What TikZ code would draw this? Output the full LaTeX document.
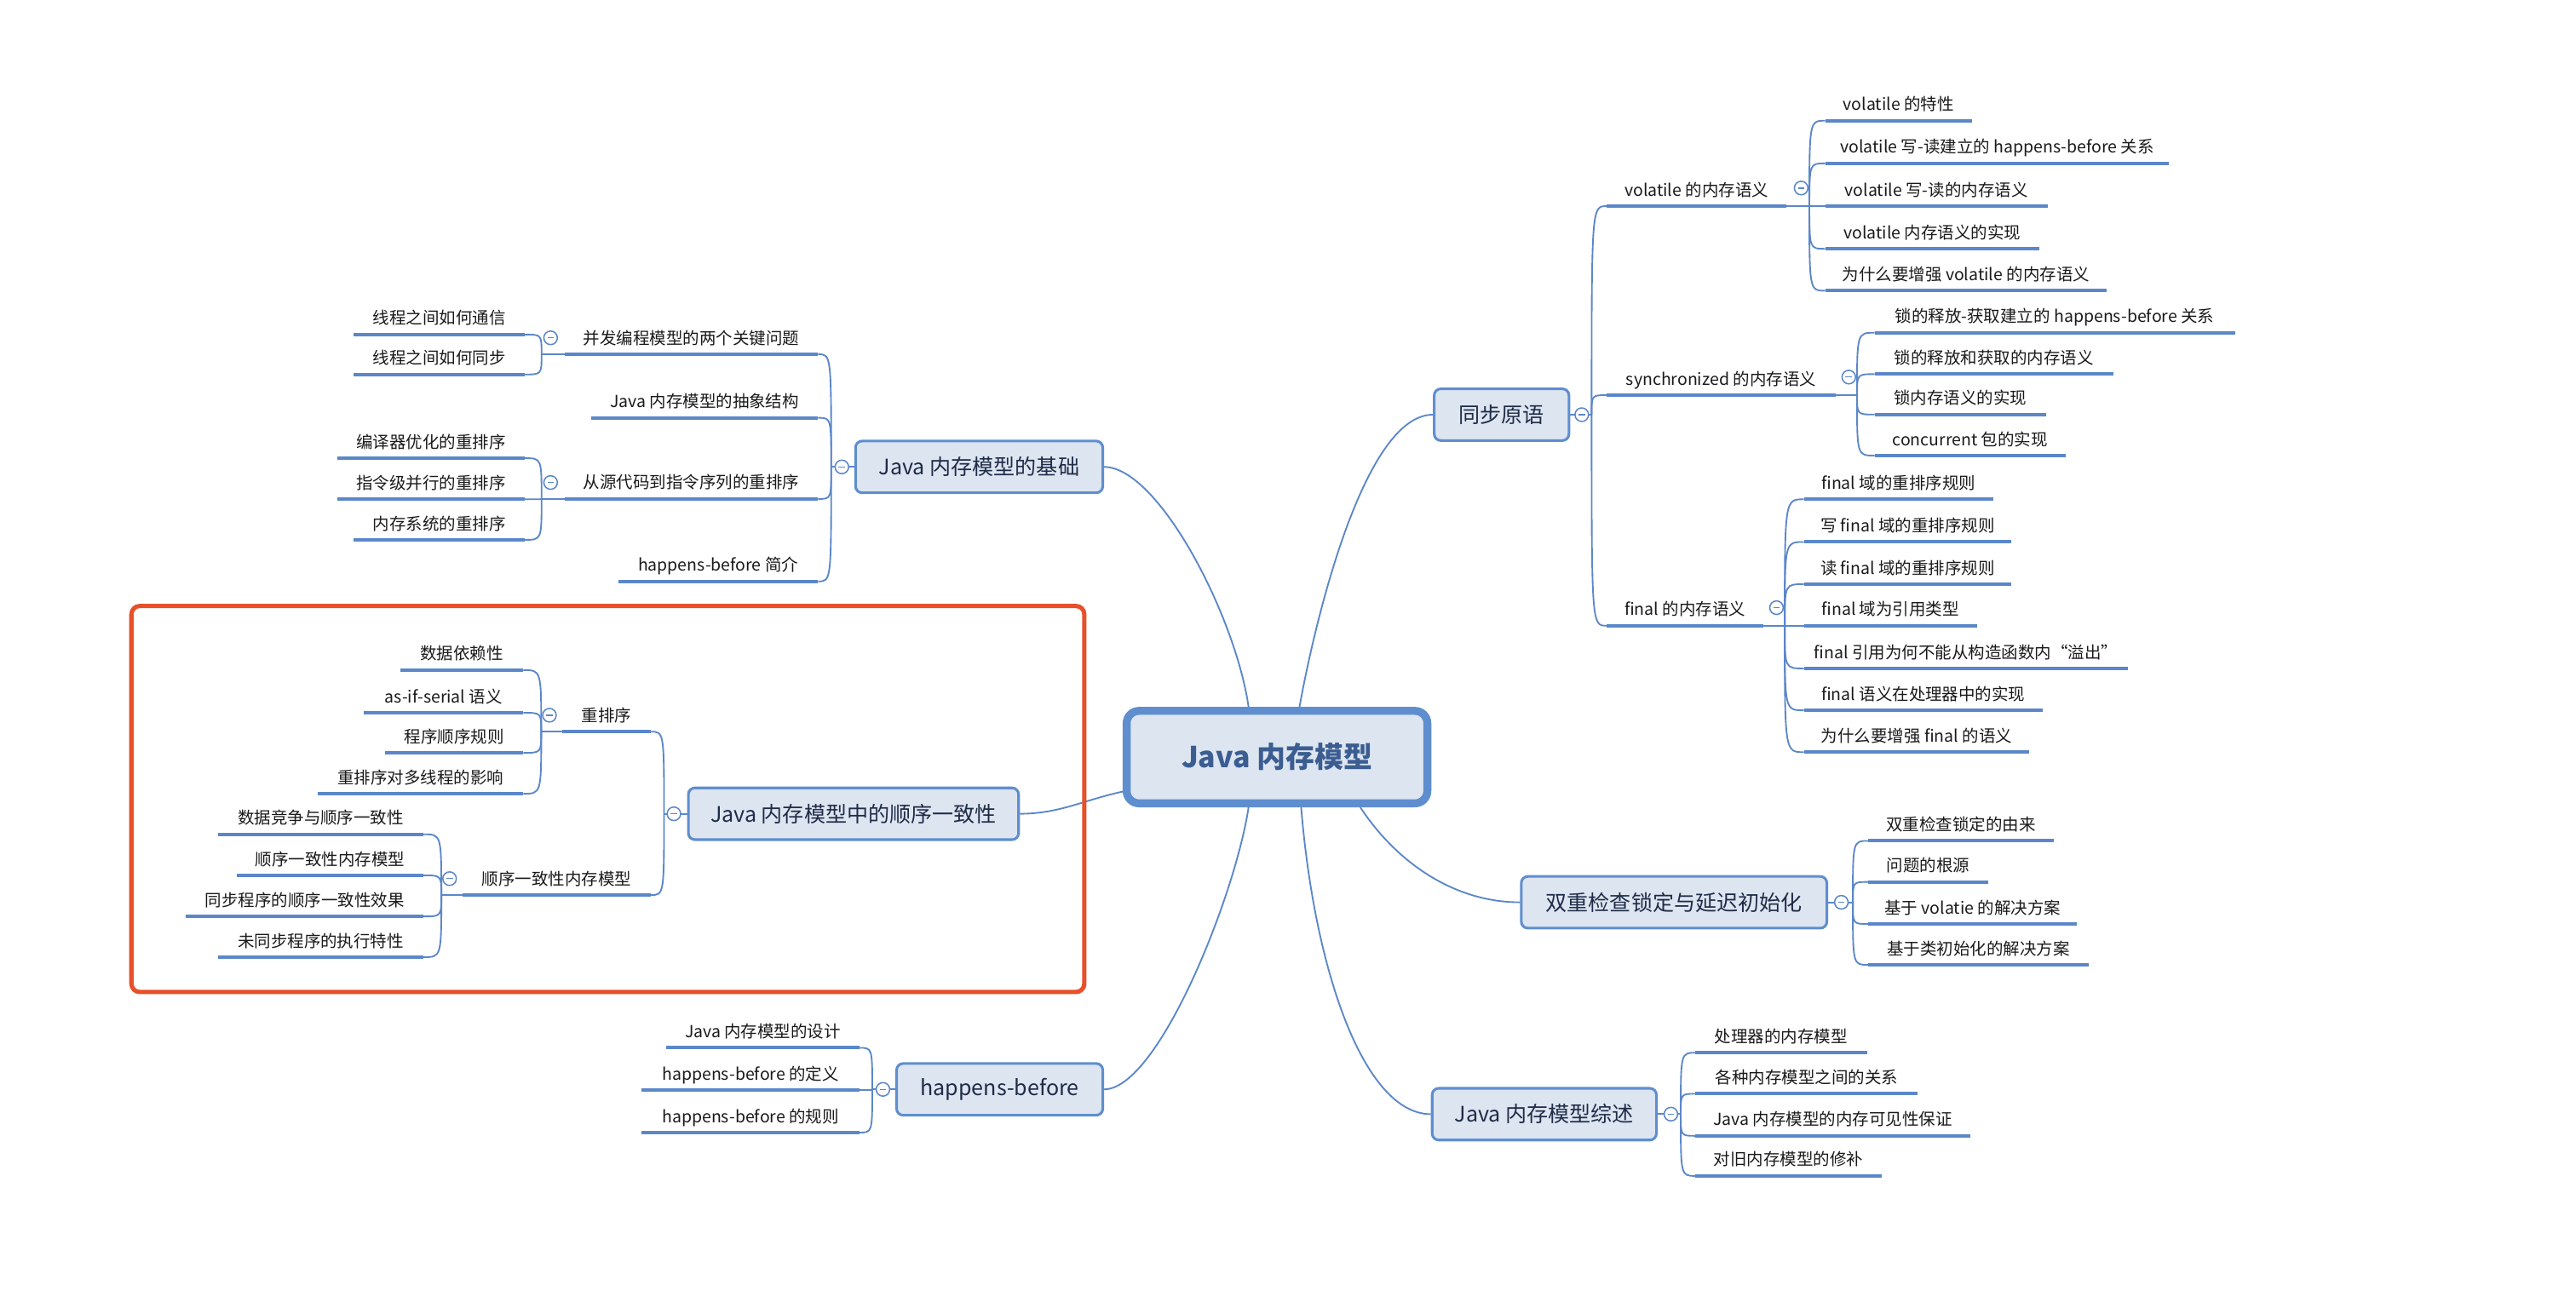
\documentclass[tikz,border=0pt]{standalone}
\usepackage{fontspec}
\setmainfont{Noto Sans CJK SC}
\usetikzlibrary{calc}
\definecolor{lnblue}{HTML}{5B87C9}
\definecolor{boxfill}{HTML}{DDE5F1}
\definecolor{boxline}{HTML}{5F8ECF}
\definecolor{navy}{HTML}{1F2C47}
\definecolor{maintxt}{HTML}{3B5D91}
\definecolor{redbox}{HTML}{E8502A}
\definecolor{leaftxt}{HTML}{1A1A1A}
\pgfdeclarelayer{background}
\pgfsetlayers{background,main}
\newcommand\leaffont{\fontsize{11.5pt}{13pt}\selectfont}
\newcommand\ltwofont{\fontsize{14.8pt}{17pt}\selectfont}
\newcommand\topfont{\fontsize{20pt}{24pt}\selectfont\bfseries}
\newcommand\rleaf[5]{\node[leaf, anchor=south west, minimum width={(#3-#2)*0.04cm}] (#1) at (#2,#4) {#5};}
\newcommand\lleaf[5]{\node[leaf, anchor=south east, minimum width={(#3-#2)*0.04cm}] (#1) at (#3,#4) {#5};}
\newcommand\rconn[2]{\draw[conn] (#1) .. controls (#1 |- #2.south west) .. (#2.south west);}
\newcommand\lconn[2]{\draw[conn] (#1) .. controls (#1 |- #2.south east) .. (#2.south east);}
\tikzset{
  bar/.style={draw=lnblue, line width=2.4pt},
  conn/.style={draw=lnblue, line width=1.1pt},
  leaf/.style={font=\leaffont, text=leaftxt, inner xsep=0pt, inner ysep=0.17cm,
    text height=0.8em, text depth=0.2em,
    append after command={(\tikzlastnode.south west) edge[bar] (\tikzlastnode.south east)}},
  ltwo/.style={draw=boxline, fill=boxfill, line width=1.8pt, rounded corners=0.16cm,
    minimum height=1.26cm, font=\ltwofont, text=navy, inner sep=0pt},
  mainbox/.style={draw=boxline, fill=boxfill, line width=5.5pt, rounded corners=0.3cm,
    minimum width=7.32cm, minimum height=2.25cm, font=\topfont, text=maintxt, inner sep=0pt},
  circ/.style={circle, draw=lnblue, fill=white, line width=0.9pt, minimum size=0.33cm, inner sep=0pt,
    path picture={\draw[lnblue, line width=0.8pt] ([xshift=-0.08cm]path picture bounding box.center) -- ([xshift=0.08cm]path picture bounding box.center);}}
}
\begin{document}
\begin{tikzpicture}[x=0.04cm, y=-0.04cm]
\begin{pgfonlayer}{background}
\fill[white] (0,0) rectangle (1568,796.4);
\end{pgfonlayer}
\useasboundingbox (0,0) rectangle (1568,796.4);

% ---- central and level-2 nodes ----
\node[mainbox] (main) at (777.3,461) {Java 内存模型};
\node[ltwo, minimum width=3.28cm] (tb) at (914,252.5) {同步原语};
\node[ltwo, minimum width=7.44cm] (sc) at (1019,549.4) {双重检查锁定与延迟初始化};
\node[ltwo, minimum width=5.46cm] (zs) at (940,678.4) {Java 内存模型综述};
\node[ltwo, minimum width=6.02cm] (jb) at (596,284.3) {Java 内存模型的基础};
\node[ltwo, minimum width=8.04cm] (sx) at (519.5,495.5) {Java 内存模型中的顺序一致性};
\node[ltwo, minimum width=5.02cm] (hb) at (608.5,663.3) {happens-before};

% ---- right: 同步原语 ----
\rleaf{v}{978}{1087}{125.5}{volatile 的内存语义}
\rleaf{s}{978}{1117}{240.6}{synchronized 的内存语义}
\rleaf{f}{978}{1073}{381}{final 的内存语义}
\rleaf{v1}{1111}{1200}{73.5}{volatile 的特性}
\rleaf{v2}{1111}{1320}{99.5}{volatile 写-读建立的 happens-before 关系}
\rleaf{v3}{1111}{1246}{125.5}{volatile 写-读的内存语义}
\rleaf{v4}{1111}{1241}{151.5}{volatile 内存语义的实现}
\rleaf{v5}{1111}{1282}{177}{为什么要增强 volatile 的内存语义}
\rleaf{s1}{1141}{1360}{202.6}{锁的释放-获取建立的 happens-before 关系}
\rleaf{s2}{1141}{1286}{227.8}{锁的释放和获取的内存语义}
\rleaf{s3}{1141}{1245}{252.4}{锁内存语义的实现}
\rleaf{s4}{1141}{1257}{277.4}{concurrent 包的实现}
\rleaf{f1}{1098}{1213}{304}{final 域的重排序规则}
\rleaf{f2}{1098}{1224}{330}{写 final 域的重排序规则}
\rleaf{f3}{1098}{1224}{355.7}{读 final 域的重排序规则}
\rleaf{f4}{1098}{1203}{381}{final 域为引用类型}
\rleaf{f5}{1098}{1295}{407}{final 引用为何不能从构造函数内“溢出”}
\rleaf{f6}{1098}{1243}{432.5}{final 语义在处理器中的实现}
\rleaf{f7}{1098}{1235}{458}{为什么要增强 final 的语义}

% ---- right: 双重检查 ----
\rleaf{d1}{1137}{1250}{512}{双重检查锁定的由来}
\rleaf{d2}{1137}{1210}{537}{问题的根源}
\rleaf{d3}{1137}{1264}{562.6}{基于 volatie 的解决方案}
\rleaf{d4}{1137}{1271}{587.5}{基于类初始化的解决方案}

% ---- right: 综述 ----
\rleaf{z1}{1032}{1136}{641}{处理器的内存模型}
\rleaf{z2}{1032}{1167}{666}{各种内存模型之间的关系}
\rleaf{z3}{1032}{1199}{691.6}{Java 内存模型的内存可见性保证}
\rleaf{z4}{1032}{1145}{716}{对旧内存模型的修补}

% ---- left: 基础 ----
\lleaf{b1}{344}{498}{215.7}{并发编程模型的两个关键问题}
\lleaf{b2}{360}{498}{254.4}{Java 内存模型的抽象结构}
\lleaf{b3}{344}{498}{303.8}{从源代码到指令序列的重排序}
\lleaf{b4}{376.6}{498}{354}{happens-before 简介}
\lleaf{b11}{215.6}{319.5}{203.7}{线程之间如何通信}
\lleaf{b12}{215.6}{319.5}{228}{线程之间如何同步}
\lleaf{b31}{205.8}{319.5}{279}{编译器优化的重排序}
\lleaf{b32}{205.8}{319.5}{304}{指令级并行的重排序}
\lleaf{b33}{215.6}{319.5}{328.7}{内存系统的重排序}

% ---- left: 顺序一致性 ----
\lleaf{o1}{342.8}{396}{445.5}{重排序}
\lleaf{o2}{282}{396}{545}{顺序一致性内存模型}
\lleaf{o11}{244}{318.5}{408}{数据依赖性}
\lleaf{o12}{222}{318.5}{434}{as-if-serial 语义}
\lleaf{o13}{234.9}{318.5}{458.4}{程序顺序规则}
\lleaf{o14}{194}{318.5}{483.3}{重排序对多线程的影响}
\lleaf{o21}{133}{257.8}{508}{数据竞争与顺序一致性}
\lleaf{o22}{144.5}{257.8}{533}{顺序一致性内存模型}
\lleaf{o23}{113.6}{257.8}{558}{同步程序的顺序一致性效果}
\lleaf{o24}{133}{257.8}{582.8}{未同步程序的执行特性}

% ---- left: happens-before ----
\lleaf{h1}{406}{523}{638}{Java 内存模型的设计}
\lleaf{h2}{391}{523}{663.7}{happens-before 的定义}
\lleaf{h3}{391}{523}{689.6}{happens-before 的规则}

% ---- branch points ----
\coordinate (bpT) at ($(tb.east)+(13,0)$);
\coordinate (bpD) at ($(sc.east)+(15,0)$);
\coordinate (bpZ) at ($(zs.east)+(14,0)$);
\coordinate (bpJ) at ($(jb.west)+(-14,0)$);
\coordinate (bpS) at ($(sx.west)+(-14,0)$);
\coordinate (bpH) at ($(hb.west)+(-14,0)$);
\coordinate (bpV) at ($(v.south east)+(14,0)$);
\coordinate (bpS2) at ($(s.south east)+(13,0)$);
\coordinate (bpF) at ($(f.south east)+(13,0)$);
\coordinate (bpB1) at ($(b1.south west)+(-14,0)$);
\coordinate (bpB3) at ($(b3.south west)+(-14,0)$);
\coordinate (bpO1) at ($(o1.south west)+(-13,0)$);
\coordinate (bpO2) at ($(o2.south west)+(-13,0)$);
\coordinate (mt1) at ($(main.north)+(13.7,0)$);
\coordinate (mt2) at ($(main.north)+(-17.3,0)$);
\coordinate (ml) at ($(main.west)+(0,21)$);
\coordinate (mb1) at ($(main.south)+(-17.3,0)$);
\coordinate (mb2) at ($(main.south)+(50.7,0)$);
\coordinate (mb3) at ($(main.south)+(14.7,0)$);

\begin{pgfonlayer}{background}
% central connectors
\draw[conn] (mt1) .. controls (800,380) and (830,252.5) .. (tb.west);
\draw[conn] (mt2) .. controls (752,375) and (705,284.3) .. (jb.east);
\draw[conn] (ml) .. controls (660,487) and (645,495.5) .. (sx.east);
\draw[conn] (mb1) .. controls (752,545) and (705,663.3) .. (hb.east);
\draw[conn] (mb2) .. controls (850,525) and (885,549.4) .. (sc.west);
\draw[conn] (mb3) .. controls (800,590) and (830,678.4) .. (zs.west);
% level-2 stems
\draw[conn] (tb.east) -- (bpT);
\draw[conn] (sc.east) -- (bpD);
\draw[conn] (zs.east) -- (bpZ);
\draw[conn] (jb.west) -- (bpJ);
\draw[conn] (sx.west) -- (bpS);
\draw[conn] (hb.west) -- (bpH);
% level-3 stems
\draw[conn] (v.south east) -- (bpV);
\draw[conn] (s.south east) -- (bpS2);
\draw[conn] (f.south east) -- (bpF);
\draw[conn] (b1.south west) -- (bpB1);
\draw[conn] (b3.south west) -- (bpB3);
\draw[conn] (o1.south west) -- (bpO1);
\draw[conn] (o2.south west) -- (bpO2);
% right branches
\rconn{bpT}{v}\rconn{bpT}{s}\rconn{bpT}{f}
\rconn{bpV}{v1}\rconn{bpV}{v2}\rconn{bpV}{v3}\rconn{bpV}{v4}\rconn{bpV}{v5}
\rconn{bpS2}{s1}\rconn{bpS2}{s2}\rconn{bpS2}{s3}\rconn{bpS2}{s4}
\rconn{bpF}{f1}\rconn{bpF}{f2}\rconn{bpF}{f3}\rconn{bpF}{f4}\rconn{bpF}{f5}\rconn{bpF}{f6}\rconn{bpF}{f7}
\rconn{bpD}{d1}\rconn{bpD}{d2}\rconn{bpD}{d3}\rconn{bpD}{d4}
\rconn{bpZ}{z1}\rconn{bpZ}{z2}\rconn{bpZ}{z3}\rconn{bpZ}{z4}
% left branches
\lconn{bpJ}{b1}\lconn{bpJ}{b2}\lconn{bpJ}{b3}\lconn{bpJ}{b4}
\lconn{bpB1}{b11}\lconn{bpB1}{b12}
\lconn{bpB3}{b31}\lconn{bpB3}{b32}\lconn{bpB3}{b33}
\lconn{bpS}{o1}\lconn{bpS}{o2}
\lconn{bpO1}{o11}\lconn{bpO1}{o12}\lconn{bpO1}{o13}\lconn{bpO1}{o14}
\lconn{bpO2}{o21}\lconn{bpO2}{o22}\lconn{bpO2}{o23}\lconn{bpO2}{o24}
\lconn{bpH}{h1}\lconn{bpH}{h2}\lconn{bpH}{h3}
\end{pgfonlayer}

% ---- collapse circles ----
\node[circ] (cT) at ($(tb.east)+(7,0)$) {};
\node[circ] (cD) at ($(sc.east)+(8,0)$) {};
\node[circ] (cZ) at ($(zs.east)+(8,0)$) {};
\node[circ] (cJ) at ($(jb.west)+(-7.5,0)$) {};
\node[circ] (cS) at ($(sx.west)+(-8,0)$) {};
\node[circ] (cH) at ($(hb.west)+(-7.5,0)$) {};
\node[circ] (cV) at ($(v.south east)+(9,-11)$) {};
\node[circ] (cS2) at ($(s.south east)+(8,-11)$) {};
\node[circ] (cF) at ($(f.south east)+(8,-11)$) {};
\node[circ] (cB1) at ($(b1.south west)+(-8.5,-10)$) {};
\node[circ] (cB3) at ($(b3.south west)+(-8.5,-10)$) {};
\node[circ] (cO1) at ($(o1.south west)+(-8,-10)$) {};
\node[circ] (cO2) at ($(o2.south west)+(-8,-10)$) {};

% ---- highlight frame ----
\draw[redbox, line width=3pt, rounded corners=0.2cm] (80,369) rectangle (660,604);
\end{tikzpicture}
\end{document}
